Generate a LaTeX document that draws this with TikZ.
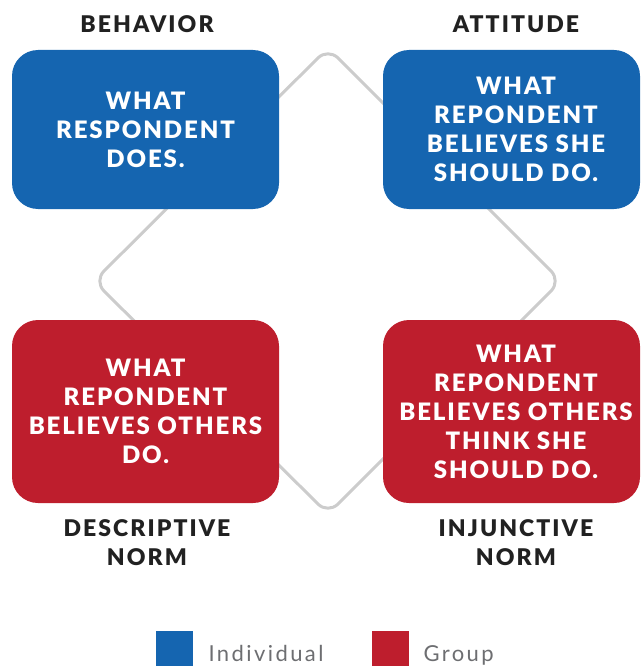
\documentclass[tikz,border=0pt]{standalone}
\usepackage{fontspec}
\usetikzlibrary{calc}
\setmainfont{Lato}
\newfontfamily\boxfont[LetterSpace=8]{Lato Black}
\newfontfamily\headfont[LetterSpace=9]{Lato Black}
\newfontfamily\legendfont[LetterSpace=11]{Lato}
\definecolor{normblue}{HTML}{1565B0}
\definecolor{normred}{HTML}{BE1E2D}
\definecolor{linkgray}{HTML}{CCCCCC}
\definecolor{legendgray}{HTML}{6D6E71}
\tikzset{
  normbox/.style={rounded corners=26pt, text=white, align=center, inner sep=0pt,
    font=\boxfont\fontsize{24}{29}\selectfont},
  heading/.style={text=black!87, align=center, font=\headfont\fontsize{23}{29}\selectfont},
  legendbox/.style={minimum width=37pt, minimum height=35pt, inner sep=0pt, anchor=north west},
  legendtext/.style={text=legendgray, anchor=base west, font=\legendfont\fontsize{22}{26}\selectfont},
}
\begin{document}
\begin{tikzpicture}[x=1pt,y=-1pt]
\useasboundingbox (0,0) rectangle (640,666);

% rounded diamond behind the boxes
\coordinate (top) at (328,48);
\coordinate (right) at (561,281);
\coordinate (bottom) at (328,514);
\coordinate (left) at (94,281);
\draw[linkgray, line width=3pt, rounded corners=14pt]
  ($(top)!0.5!(right)$) -- (right) -- (bottom) -- (left) -- (top) -- cycle;

% boxes
\node[normbox, fill=normblue, minimum width=267pt, minimum height=159pt] (does) at (145.5,129.5)
  {WHAT\\RESPONDENT\\DOES.};
\node[normbox, fill=normblue, minimum width=257pt, minimum height=159pt] (should) at (511.5,129.5)
  {\hspace*{9pt}WHAT\\\hspace*{9pt}REPONDENT\\\hspace*{9pt}BELIEVES SHE\\\hspace*{9pt}SHOULD DO.};
\node[normbox, fill=normred, minimum width=267pt, minimum height=183pt] (othersdo) at (145.5,411.5)
  {WHAT\\REPONDENT\\BELIEVES OTHERS\\DO.};
\node[normbox, fill=normred, minimum width=257pt, minimum height=183pt] (othersthink) at (511.5,411.5)
  {\hspace*{9pt}WHAT\\\hspace*{9pt}REPONDENT\\\hspace*{9pt}BELIEVES OTHERS\\\hspace*{9pt}THINK SHE\\\hspace*{9pt}SHOULD DO.};

% headings
\node[heading] (behavior) at (147,24) {BEHAVIOR};
\node[heading] (attitude) at (516,24) {ATTITUDE};
\node[heading] (descriptive) at (147,543) {DESCRIPTIVE\\NORM};
\node[heading] (injunctive) at (516,543) {INJUNCTIVE\\NORM};

% legend
\node[legendbox, fill=normblue] (indkey) at (156,631) {};
\node[legendbox, fill=normred] (grpkey) at (372,631) {};
\node[legendtext] (indlabel) at (205,661) {Individual};
\node[legendtext] (grplabel) at (420,661) {Group};
\end{tikzpicture}
\end{document}
